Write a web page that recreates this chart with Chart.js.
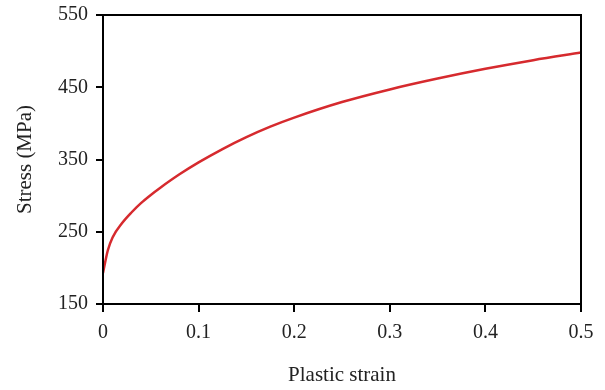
<!DOCTYPE html>
<html>
<head>
<meta charset="utf-8">
<script src="https://cdn.jsdelivr.net/npm/chart.js@4/dist/chart.umd.min.js"></script>
<style>
  body { margin: 0; background: #fff; }
  canvas { display: block; }
</style>
</head>
<body>
<canvas id="chart" width="605" height="390"></canvas>
<script>
// values
const strain = [0, 0.005, 0.01, 0.02, 0.03, 0.04, 0.05, 0.06, 0.08, 0.1, 0.125, 0.15, 0.175, 0.2, 0.25, 0.3, 0.35, 0.4, 0.45, 0.5];
const stress = [193, 224, 242, 262, 277, 290, 301, 311, 329.5, 346, 364.5, 381, 395.5, 408, 429.5, 447, 462, 475.5, 487.5, 498];
const yTicks = [150, 250, 350, 450, 550];
const xTicks = [0, 0.1, 0.2, 0.3, 0.4, 0.5];

const font = "'Liberation Serif', 'Times New Roman', serif";

// top and right edges of the box
const frame = {
  id: "frame",
  afterDraw(chart) {
    const { ctx, chartArea: a } = chart;
    ctx.save();
    ctx.strokeStyle = "#000";
    ctx.lineWidth = 2;
    ctx.strokeRect(a.left, a.top, a.right - a.left, a.bottom - a.top);
    ctx.restore();
  },
};

new Chart(document.getElementById("chart"), {
  type: "line",
  data: {
    datasets: [
      {
        data: strain.map((x, i) => ({ x: x, y: stress[i] })),
        borderColor: "#d62a2e",
        borderWidth: 2.5,
        pointRadius: 0,
        cubicInterpolationMode: "monotone",
        fill: false,
      },
    ],
  },
  options: {
    responsive: false,
    animation: false,
    layout: { padding: { top: 15, right: 24, left: 0, bottom: 0 } },
    plugins: { legend: { display: false }, tooltip: { enabled: false } },
    scales: {
      x: {
        type: "linear",
        min: 0,
        max: 0.5,
        afterFit: (s) => { s.height = 86; s.paddingLeft = 0; s.paddingRight = 0; },
        afterBuildTicks: (s) => { s.ticks = xTicks.map((v) => ({ value: v })); },
        ticks: {
          color: "#222",
          font: { family: font, size: 20 },
          padding: 9,
          maxRotation: 0,
          callback: (v) => String(v),
        },
        grid: { drawOnChartArea: false, drawTicks: true, tickLength: 8, color: "#000", lineWidth: 2 },
        border: { color: "#000", width: 2 },
        title: {
          display: true,
          text: "Plastic strain",
          color: "#222",
          font: { family: font, size: 21 },
          padding: { top: 2, bottom: 2 },
        },
      },
      y: {
        min: 150,
        max: 550,
        afterFit: (s) => { s.width = 103; s.paddingTop = 0; s.paddingBottom = 0; },
        afterBuildTicks: (s) => { s.ticks = yTicks.map((v) => ({ value: v })); },
        ticks: {
          color: "#222",
          font: { family: font, size: 20 },
          padding: 8,
        },
        grid: { drawOnChartArea: false, drawTicks: true, tickLength: 7, color: "#000", lineWidth: 2 },
        border: { color: "#000", width: 2 },
        title: {
          display: true,
          text: "Stress (MPa)",
          color: "#222",
          font: { family: font, size: 21 },
          padding: { top: 13, bottom: 0 },
        },
      },
    },
  },
  plugins: [frame],
});
</script>
</body>
</html>
